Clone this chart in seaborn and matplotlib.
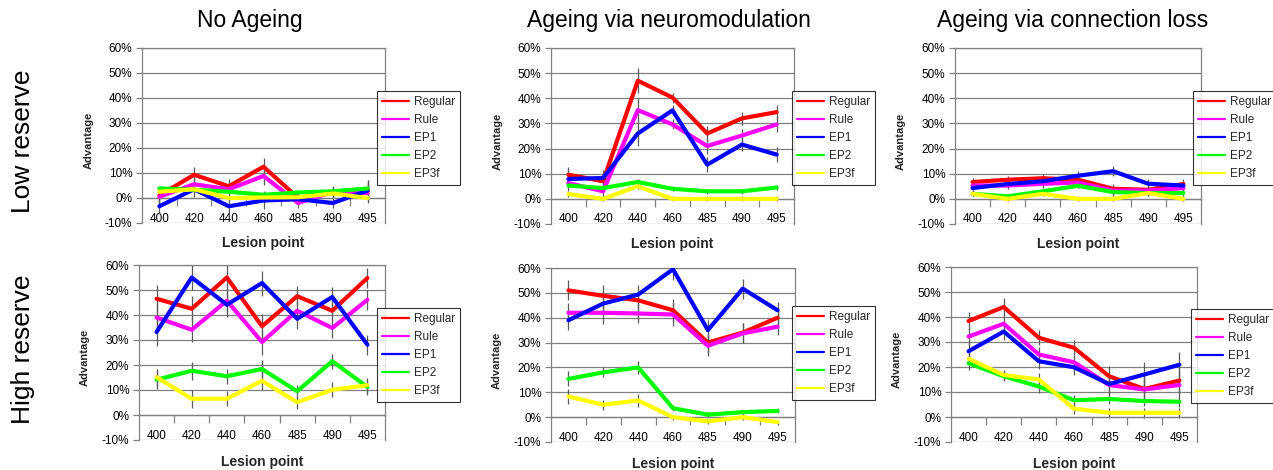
import numpy as np
import pandas as pd
import matplotlib
matplotlib.use("Agg")
import matplotlib.pyplot as plt
import seaborn as sns
from matplotlib.ticker import FixedLocator, FuncFormatter

# ---------------- data ----------------
LESION_POINTS = ["400", "420", "440", "460", "485", "490", "495"]
SERIES = ["Regular", "Rule", "EP1", "EP2", "EP3f"]
COLORS = ["#FF0000", "#FF00FF", "#0000FF", "#00FF00", "#FFFF00"]
COLUMN_TITLES = ["No Ageing", "Ageing via neuromodulation", "Ageing via connection loss"]
ROW_TITLES = ["Low reserve", "High reserve"]
Y_TICKS = [-10, 0, 10, 20, 30, 40, 50, 60]

low_none = {
    "Regular": [1.0, 9.3, 4.7, 12.5, 0.0, 2.0, 3.0],
    "Rule":    [0.5, 5.5, 3.5, 8.8, -2.0, 2.5, 2.0],
    "EP1":     [-3.3, 3.5, -3.3, -1.0, -0.5, -2.0, 3.0],
    "EP2":     [3.8, 3.3, 2.5, 1.3, 2.2, 2.7, 3.8],
    "EP3f":    [2.5, 3.5, 0.0, 0.2, 0.3, 1.8, 0.0],
}
low_neuro = {
    "Regular": [9.6, 7.0, 47.0, 40.3, 26.0, 32.0, 34.5],
    "Rule":    [6.3, 3.0, 35.3, 29.6, 21.0, 25.2, 29.6],
    "EP1":     [7.9, 8.3, 26.0, 35.2, 13.6, 21.6, 17.6],
    "EP2":     [5.3, 4.3, 6.7, 4.0, 3.0, 3.0, 4.5],
    "EP3f":    [1.9, 0.0, 5.0, 0.0, 0.0, 0.0, 0.0],
}
low_conn = {
    "Regular": [6.7, 7.6, 8.2, 7.6, 4.0, 3.6, 5.9],
    "Rule":    [5.3, 5.3, 6.0, 6.5, 3.3, 3.3, 4.3],
    "EP1":     [4.3, 5.9, 7.0, 9.2, 11.0, 6.0, 5.3],
    "EP2":     [2.0, 1.0, 3.0, 5.2, 2.7, 2.3, 2.3],
    "EP3f":    [2.0, 0.0, 2.0, 0.0, 0.0, 2.3, 0.0],
}
high_none = {
    "Regular": [46.5, 42.5, 55.0, 35.5, 47.5, 41.7, 54.8],
    "Rule":    [39.0, 34.1, 45.7, 29.2, 41.7, 34.8, 46.1],
    "EP1":     [33.2, 55.0, 44.1, 52.8, 38.5, 47.2, 28.1],
    "EP2":     [14.1, 17.7, 15.5, 18.4, 9.5, 21.5, 11.2],
    "EP3f":    [15.1, 6.5, 6.5, 13.7, 5.1, 10.1, 11.9],
}
high_neuro = {
    "Regular": [51.0, 48.8, 47.0, 43.0, 30.0, 34.0, 40.0],
    "Rule":    [42.0, 42.0, 41.7, 41.3, 28.7, 33.7, 36.4],
    "EP1":     [39.0, 45.7, 49.3, 59.5, 35.0, 51.7, 43.0],
    "EP2":     [15.4, 18.0, 20.0, 3.6, 1.0, 2.0, 2.5],
    "EP3f":    [8.3, 5.0, 6.7, 0.0, -1.7, 0.0, -2.0],
}
high_conn = {
    "Regular": [38.4, 44.0, 31.7, 27.7, 16.3, 11.2, 14.6],
    "Rule":    [32.2, 37.3, 25.0, 21.9, 12.8, 11.0, 12.8],
    "EP1":     [26.3, 34.2, 22.3, 19.9, 13.2, 17.0, 20.9],
    "EP2":     [21.5, 16.3, 12.2, 6.7, 7.2, 6.4, 6.1],
    "EP3f":    [23.3, 16.8, 15.0, 3.3, 1.7, 1.7, 1.7],
}

# error half-widths (upper three series / lower two series)
err_top_low_none = [3.0, 3.0, 3.0, 3.5, 2.0, 2.0, 4.0]
err_bot_low_none = [1.0, 1.0, 1.0, 1.5, 1.0, 2.0, 1.0]
err_top_low_neuro = [3.0, 3.0, 5.0, 2.0, 3.0, 2.5, 3.0]
err_bot_low_neuro = [1.0, 1.0, 1.0, 1.0, 1.0, 1.0, 1.0]
err_top_low_conn = [1.5, 1.5, 1.5, 2.0, 2.0, 2.0, 2.0]
err_bot_low_conn = [1.0, 1.0, 1.0, 1.0, 1.0, 1.0, 1.0]
err_top_high_none = [5.5, 5.0, 5.0, 5.0, 4.0, 4.0, 4.0]
err_bot_high_none = [3.5, 3.5, 3.0, 3.5, 2.5, 3.0, 3.0]
err_top_high_neuro = [4.0, 4.5, 4.0, 4.5, 4.0, 4.0, 3.5]
err_bot_high_neuro = [3.0, 2.0, 2.5, 1.0, 1.0, 1.0, 1.0]
err_top_high_conn = [3.5, 3.5, 3.0, 3.0, 4.0, 5.0, 5.0]
err_bot_high_conn = [2.5, 2.0, 2.5, 2.0, 2.0, 2.0, 2.0]

PANELS = [
    [(low_none, err_top_low_none, err_bot_low_none),
     (low_neuro, err_top_low_neuro, err_bot_low_neuro),
     (low_conn, err_top_low_conn, err_bot_low_conn)],
    [(high_none, err_top_high_none, err_bot_high_none),
     (high_neuro, err_top_high_neuro, err_bot_high_neuro),
     (high_conn, err_top_high_conn, err_bot_high_conn)],
]

# ---------------- layout (pixels) ----------------
W, H = 1273, 470
AX_PX = [
    [(142, 385, 48, 223), (551, 794, 48, 224), (955, 1201, 48, 224)],
    [(139, 385, 265, 440), (551, 795, 268, 442), (951, 1197, 267, 442)],
]
LEG_PX = [
    [(377, 91), (792, 91), (1193, 91)],
    [(377, 308), (792, 306), (1191, 309)],
]
TITLE_X = [250, 669, 1073]
ROW_Y = [141, 349]
XLABEL_Y = [-0.075, -0.085]

sns.set_theme(style="white")
plt.rcParams["font.family"] = ["Liberation Sans", "DejaVu Sans"]
GRID = "#808080"

fig = plt.figure(figsize=(W / 100, H / 100), dpi=100)
fig.patch.set_facecolor("white")

for r in range(2):
    for c in range(3):
        data, et, eb = PANELS[r][c]
        l, rr, t, b = AX_PX[r][c]
        ax = fig.add_axes([l / W, 1 - b / H, (rr - l) / W, (b - t) / H])
        rows = []
        for s in SERIES:
            for i, v in enumerate(data[s]):
                rows.append({"pos": i, "value": v, "series": s})
        df = pd.DataFrame(rows)

        # error bars
        for s in SERIES:
            err = et if s in ("Regular", "Rule", "EP1") else eb
            ax.errorbar(np.arange(len(LESION_POINTS)), data[s], yerr=err,
                        fmt="none", ecolor="#5a5a5a", elinewidth=0.9,
                        capsize=0, zorder=2)

        sns.lineplot(data=df, x="pos", y="value", hue="series",
                     hue_order=SERIES, palette=COLORS, linewidth=3.0,
                     ax=ax, zorder=3, legend=True)

        ax.set_xlim(-0.5, len(LESION_POINTS) - 0.5)
        ax.set_ylim(-10, 60)
        ax.set_facecolor("white")

        # y axis
        ax.yaxis.set_major_locator(FixedLocator(Y_TICKS))
        ax.yaxis.set_major_formatter(FuncFormatter(lambda v, p: f"{v:.0f}%"))
        ax.tick_params(axis="y", which="major", left=True, length=4, width=0.9,
                       color=GRID, direction="out", labelsize=8.5, pad=3,
                       labelcolor="black")
        ax.yaxis.grid(True, color=GRID, linewidth=0.9)
        ax.xaxis.grid(False)

        # x axis at 0
        ax.spines["bottom"].set_position(("data", 0))
        ax.set_xticks(range(len(LESION_POINTS)))
        ax.set_xticklabels(LESION_POINTS)
        ax.set_xticks(np.arange(0.5, len(LESION_POINTS) - 1, 1.0), minor=True)
        ax.tick_params(axis="x", which="major", bottom=True, length=0,
                       labelsize=8.5, pad=10.5, labelcolor="black")
        ax.tick_params(axis="x", which="minor", bottom=True, length=6,
                       width=0.9, color=GRID, direction="out")
        for sp in ["top", "left", "right", "bottom"]:
            ax.spines[sp].set_visible(True)
            ax.spines[sp].set_color(GRID)
            ax.spines[sp].set_linewidth(0.9)
        ax.set_axisbelow(True)

        ax.set_ylabel("Advantage", fontsize=8, fontweight="bold")
        ax.yaxis.set_label_coords(-0.2, 0.47)
        ax.set_xlabel("Lesion point", fontsize=10, fontweight="bold")
        ax.xaxis.set_label_coords(0.5, XLABEL_Y[r])

        handles, labels = ax.get_legend_handles_labels()
        lx, ly = LEG_PX[r][c]
        leg = ax.legend(handles, labels, loc="upper left",
                        bbox_to_anchor=(lx / W, 1 - ly / H),
                        bbox_transform=fig.transFigure, frameon=True,
                        fancybox=False, edgecolor="black", fontsize=8.5,
                        handlelength=2.3, handletextpad=0.35, borderpad=0.45,
                        labelspacing=0.5, borderaxespad=0)
        leg.get_frame().set_linewidth(0.8)
        leg.set_zorder(10)
        for h in leg.legend_handles:
            h.set_linewidth(1.6)

for c, title in enumerate(COLUMN_TITLES):
    fig.text(TITLE_X[c] / W, 1 - 20 / H, title, ha="center", va="center",
             fontsize=16.5, color="black")
for r, title in enumerate(ROW_TITLES):
    fig.text(23 / W, 1 - ROW_Y[r] / H, title, ha="center", va="center",
             rotation=90, fontsize=19, color="black")

fig.savefig("out.png", dpi=100, facecolor="white")
